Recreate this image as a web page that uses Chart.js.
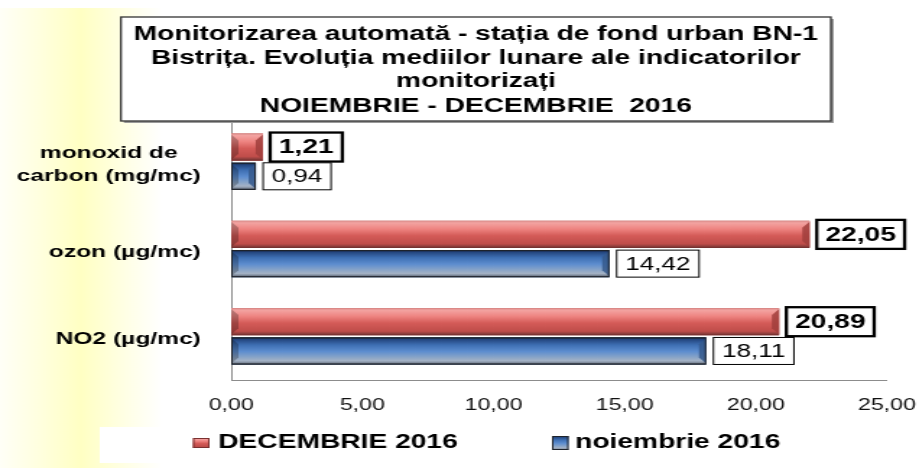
<!DOCTYPE html>
<html>
<head>
<meta charset="utf-8">
<script src="https://cdn.jsdelivr.net/npm/chart.js@4/dist/chart.umd.min.js"></script>
<style>
  body { margin: 0; background: #fff; }
</style>
</head>
<body>
<!-- chart is drawn 636 wide and stretched to 919 like the original picture -->
<canvas id="chart" width="636" height="468" style="width:919px;height:468px"></canvas>
<script>
const categories = [['monoxid de', 'carbon (mg/mc)'], 'ozon (µg/mc)', 'NO2 (µg/mc)'];
const seriesNames = ['DECEMBRIE 2016', 'noiembrie 2016'];
const decemberValues = [1.21, 22.05, 20.89];
const novemberValues = [0.94, 14.42, 18.11];
const axisMin = 0;
const axisMax = 25;
const axisStep = 5;
const titleLines = [
    'Monitorizarea automată - stația de fond urban BN-1',
    'Bistrița. Evoluția mediilor lunare ale indicatorilor',
    'monitorizați',
    'NOIEMBRIE - DECEMBRIE  2016'
];

const FONT = "'Liberation Sans', Arial, sans-serif";
const fmt = v => v.toFixed(2).replace('.', ',');

// colour ramps for the 3D look of each series
const barStyles = [
    { base: '#c0504d', stops: [[0, '#d98b89'], [0.08, '#f3a3a1'], [0.3, '#ee8481'], [0.55, '#d45b58'], [0.85, '#bf4d4a'], [0.93, '#93403e'], [1, '#6a2c2b']], end: '#a03e3c', outline: null, bold: true },
    { base: '#4f81bd', stops: [[0, '#141c2c'], [0.08, '#24467f'], [0.28, '#3e6fb3'], [0.52, '#5d8dcf'], [0.72, '#86a3c8'], [0.86, '#a4b2c5'], [0.93, '#7f8b9c'], [1, '#2a2e35']], end: '#35598c', outline: '#1e232b', bold: false }
];

const backgroundPlugin = {
    id: 'background',
    beforeDraw(chart) {
        const ctx = chart.ctx;
        ctx.save();
        ctx.fillStyle = '#fff';
        ctx.fillRect(0, 0, chart.width, chart.height);
        const g = ctx.createLinearGradient(0, 0, 112, 0);
        g.addColorStop(0, 'rgba(255,255,200,0.15)');
        g.addColorStop(0.5, 'rgba(255,255,195,1)');
        g.addColorStop(1, 'rgba(255,255,200,0)');
        ctx.fillStyle = g;
        ctx.fillRect(0, 8, 112, chart.height - 8);
        // white band behind the legend
        ctx.fillStyle = '#fff';
        ctx.fillRect(69, 427, 540, 36);
        ctx.restore();
    }
};

function shadeBar(ctx, bar, style) {
    const { x, y, base, height } = bar.getProps(['x', 'y', 'base', 'height'], true);
    const top = y - height / 2, bot = y + height / 2;
    const left = Math.min(base, x), right = Math.max(base, x);
    const w = right - left;
    const g = ctx.createLinearGradient(0, top, 0, bot);
    style.stops.forEach(s => g.addColorStop(s[0], s[1]));
    ctx.fillStyle = g;
    ctx.fillRect(left, top, w, height);
    const bx = Math.min(5, w / 2), by = Math.min(7, height / 2);
    // right end bevel
    ctx.fillStyle = style.end;
    ctx.globalAlpha = 0.85;
    ctx.beginPath();
    ctx.moveTo(right - bx, top + by);
    ctx.lineTo(right, top + 1);
    ctx.lineTo(right, bot - 1);
    ctx.lineTo(right - bx, bot - by);
    ctx.closePath();
    ctx.fill();
    // left end bevel
    ctx.globalAlpha = 0.25;
    ctx.fillStyle = '#000';
    ctx.beginPath();
    ctx.moveTo(left + bx, top + by);
    ctx.lineTo(left, top + 1);
    ctx.lineTo(left, bot - 1);
    ctx.lineTo(left + bx, bot - by);
    ctx.closePath();
    ctx.fill();
    ctx.globalAlpha = 1;
    if (style.outline) {
        ctx.strokeStyle = style.outline;
        ctx.lineWidth = 1;
        ctx.strokeRect(left + 0.5, top + 0.5, w - 1, height - 1);
    }
    return { right, y };
}

const barsPlugin = {
    id: 'bars3d',
    afterDatasetsDraw(chart) {
        const ctx = chart.ctx;
        ctx.save();
        chart.data.datasets.forEach((ds, di) => {
            const style = barStyles[di];
            chart.getDatasetMeta(di).data.forEach((bar, i) => {
                const pos = shadeBar(ctx, bar, style);
                // value label in a box
                const text = fmt(ds.data[i]);
                ctx.font = (style.bold ? 'bold 19.5px ' : '18px ') + FONT;
                const tw = ctx.measureText(text).width;
                const bw = tw + 12, bh = style.bold ? 29 : 27;
                const bxl = pos.right + 5;
                ctx.fillStyle = '#fff';
                ctx.fillRect(bxl, pos.y - bh / 2, bw, bh);
                ctx.lineWidth = style.bold ? 2.3 : 1;
                ctx.strokeStyle = '#000';
                ctx.strokeRect(bxl, pos.y - bh / 2, bw, bh);
                ctx.fillStyle = '#000';
                ctx.textAlign = 'center';
                ctx.textBaseline = 'middle';
                ctx.fillText(text, bxl + bw / 2, pos.y + 1);
            });
        });
        ctx.restore();
    }
};

const labelsPlugin = {
    id: 'catLabels',
    afterDraw(chart) {
        const ctx = chart.ctx;
        const yScale = chart.scales.y;
        ctx.save();
        ctx.font = 'bold 17px ' + FONT;
        ctx.fillStyle = '#000';
        ctx.textAlign = 'center';
        ctx.textBaseline = 'middle';
        chart.data.labels.forEach((lab, i) => {
            const lines = Array.isArray(lab) ? lab : [lab];
            const maxW = Math.max(...lines.map(l => ctx.measureText(l).width));
            const cx = 139 - maxW / 2;
            const yc = yScale.getPixelForValue(i) + 3;
            lines.forEach((l, k) => {
                ctx.fillText(l, cx, yc - (lines.length - 1) * 11.5 + k * 23);
            });
        });

        // legend
        ctx.font = 'bold 19.5px ' + FONT;
        ctx.textAlign = 'left';
        const legendX = [[133.5, 151], [382, 398]];
        chart.data.datasets.forEach((ds, di) => {
            const [mx, tx] = legendX[di];
            const mh = di === 0 ? 10 : 14;
            const g = ctx.createLinearGradient(0, 443 - mh / 2, 0, 443 + mh / 2);
            barStyles[di].stops.forEach(s => g.addColorStop(s[0], s[1]));
            ctx.fillStyle = g;
            ctx.fillRect(mx, 443 - mh / 2, 11.5, mh);
            ctx.strokeStyle = di === 0 ? '#7a3130' : '#1e232b';
            ctx.lineWidth = 1;
            ctx.strokeRect(mx + 0.5, 443 - mh / 2 + 0.5, 10.5, mh - 1);
            ctx.fillStyle = '#000';
            ctx.fillText(ds.label, tx, 443);
        });

        // title box
        const tl = 83.7, tt = 17, tr = 575, tb = 121;
        ctx.fillStyle = '#9a9a9a';
        ctx.fillRect(tl + 2, tt + 2, tr - tl, tb - tt);
        ctx.fillStyle = '#fff';
        ctx.fillRect(tl, tt, tr - tl, tb - tt);
        ctx.strokeStyle = '#333';
        ctx.lineWidth = 1.3;
        ctx.strokeRect(tl, tt, tr - tl, tb - tt);
        ctx.fillStyle = '#000';
        ctx.font = 'bold 19.5px ' + FONT;
        ctx.textAlign = 'center';
        ctx.textBaseline = 'alphabetic';
        const baselines = [40, 63.5, 87, 112];
        titleLines.forEach((t, k) => ctx.fillText(t, (tl + tr) / 2, baselines[k]));
        ctx.restore();
    }
};

new Chart(document.getElementById('chart'), {
    type: 'bar',
    data: {
        labels: categories,
        datasets: [
            { label: seriesNames[0], data: decemberValues, backgroundColor: barStyles[0].base, borderWidth: 0 },
            { label: seriesNames[1], data: novemberValues, backgroundColor: barStyles[1].base, borderWidth: 0 }
        ]
    },
    options: {
        indexAxis: 'y',
        responsive: false,
        animation: false,
        devicePixelRatio: 1,
        categoryPercentage: 0.67,
        barPercentage: 0.93,
        layout: { padding: { left: 160, right: 22.2, top: 118, bottom: 0 } },
        plugins: { legend: { display: false }, tooltip: { enabled: false }, title: { display: false } },
        scales: {
            x: {
                min: axisMin,
                max: axisMax,
                grid: { display: false, drawTicks: false },
                border: { display: true, color: '#8c8c8c', width: 1 },
                ticks: { stepSize: axisStep, padding: 16, color: '#111', font: { family: FONT, size: 16 }, callback: v => fmt(v) },
                afterFit: s => { s.height = 88; s.paddingLeft = 0; s.paddingRight = 0; }
            },
            y: {
                grid: { display: false, drawTicks: false },
                border: { display: true, color: '#8c8c8c', width: 1 },
                ticks: { display: false },
                afterFit: s => { s.width = 0; }
            }
        }
    },
    plugins: [backgroundPlugin, barsPlugin, labelsPlugin]
});
</script>
</body>
</html>
